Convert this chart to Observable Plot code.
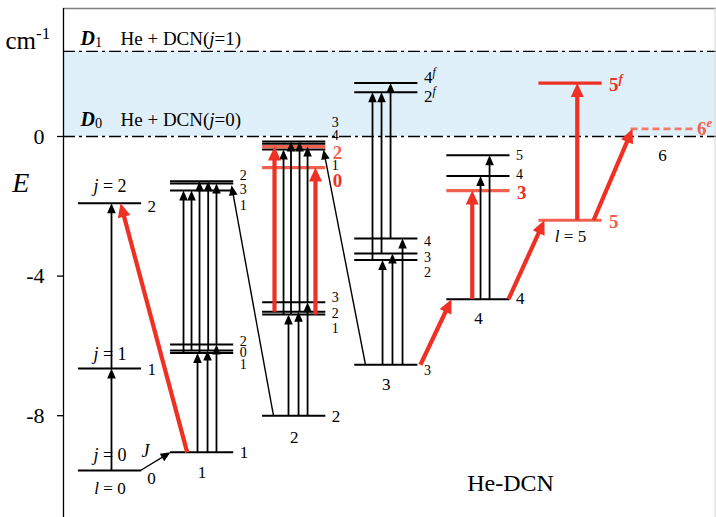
<!DOCTYPE html>
<html><head><meta charset="utf-8">
<script src="https://cdn.jsdelivr.net/npm/d3@7"></script>
<script src="https://cdn.jsdelivr.net/npm/@observablehq/plot@0.6"></script>
<style>body{margin:0;background:#fff}svg{display:block}svg text{font-family:'Liberation Serif','Times New Roman',serif}</style>
</head><body><div id="chart"></div>
<script>
// ---------- data ----------
const yTicks = [0, -4, -8];
const dissociation = [
  {name: "<b><i>D</i></b><sub>0</sub>", text: "He + DCN(<i>j</i>=0)", E: 0, labelE: 0.487},
  {name: "<b><i>D</i></b><sub>1</sub>", text: "He + DCN(<i>j</i>=1)", E: 2.44, labelE: 2.81}
];
// bound levels: column l, label J, energy E (cm-1), tone k=black, s=light red, r=red, d=dashed red
const levels = [
  {l:0, J:"0", E:-9.57, tone:"k"}, {l:0, J:"1", E:-6.65, tone:"k"}, {l:0, J:"2", E:-1.91, tone:"k"},
  {l:1, J:"1", E:-9.05, tone:"k"},
  {l:1, J:"2", E:-5.96, tone:"k"}, {l:1, J:"0", E:-6.13, tone:"k"}, {l:1, J:"1", E:-6.20, tone:"k"},
  {l:1, J:"2", E:-1.28, tone:"k"}, {l:1, J:"3", E:-1.35, tone:"k"}, {l:1, J:"1", E:-1.55, tone:"k"},
  {l:2, J:"2", E:-8.00, tone:"k"},
  {l:2, J:"3", E:-4.75, tone:"k"}, {l:2, J:"2", E:-5.02, tone:"k"}, {l:2, J:"1", E:-5.10, tone:"k"},
  {l:2, J:"3", E:-0.14, tone:"k"}, {l:2, J:"4", E:-0.21, tone:"k"}, {l:2, J:"2", E:-0.29, tone:"s"},
  {l:2, J:"1", E:-0.37, tone:"k"}, {l:2, J:"0", E:-0.89, tone:"s"},
  {l:3, J:"3", E:-6.54, tone:"k"},
  {l:3, J:"4", E:-2.92, tone:"k"}, {l:3, J:"3", E:-3.35, tone:"k"}, {l:3, J:"2", E:-3.54, tone:"k"},
  {l:3, J:"4f", E:1.53, tone:"k"}, {l:3, J:"2f", E:1.27, tone:"k"},
  {l:4, J:"4", E:-4.66, tone:"k"}, {l:4, J:"5", E:-0.54, tone:"k"}, {l:4, J:"4", E:-1.13, tone:"k"},
  {l:4, J:"3", E:-1.55, tone:"s"},
  {l:5, J:"5", E:-2.40, tone:"s"}, {l:5, J:"5f", E:1.53, tone:"r"},
  {l:6, J:"6e", E:0.22, tone:"d"}
];
// transitions: x in column units, from E1 to E2
const blackArrows = [
  {x1:0.016, E1:-9.57, x2:0.016, E2:-6.65}, {x1:0.016, E1:-6.65, x2:0.016, E2:-1.91},
  {x1:0.950, E1:-9.05, x2:0.950, E2:-6.20}, {x1:1.059, E1:-9.05, x2:1.059, E2:-6.13}, {x1:1.156, E1:-9.05, x2:1.156, E2:-5.96},
  {x1:0.798, E1:-6.20, x2:0.798, E2:-1.55}, {x1:0.885, E1:-6.13, x2:0.885, E2:-1.55},
  {x1:0.972, E1:-6.20, x2:0.972, E2:-1.28}, {x1:1.066, E1:-6.13, x2:1.066, E2:-1.28}, {x1:1.156, E1:-5.96, x2:1.156, E2:-1.35},
  {x1:1.938, E1:-8.00, x2:1.938, E2:-5.10}, {x1:2.047, E1:-8.00, x2:2.047, E2:-5.02}, {x1:2.145, E1:-8.00, x2:2.145, E2:-4.75},
  {x1:1.884, E1:-5.10, x2:1.884, E2:-0.37}, {x1:1.965, E1:-5.10, x2:1.965, E2:-0.14},
  {x1:2.058, E1:-5.02, x2:2.058, E2:-0.14}, {x1:2.145, E1:-4.75, x2:2.145, E2:-0.29},
  {x1:2.959, E1:-6.54, x2:2.959, E2:-3.54}, {x1:3.067, E1:-6.54, x2:3.067, E2:-3.35}, {x1:3.176, E1:-6.54, x2:3.176, E2:-2.92},
  {x1:2.850, E1:-3.54, x2:2.850, E2:1.27}, {x1:2.948, E1:-3.35, x2:2.948, E2:1.27}, {x1:3.046, E1:-2.92, x2:3.046, E2:1.53},
  {x1:4.023, E1:-4.66, x2:4.023, E2:-1.13}, {x1:4.121, E1:-4.66, x2:4.121, E2:-0.54}
];
const thinArrows = [
  {x1:1.775, E1:-8.00, x2:1.319, E2:-1.40},
  {x1:2.774, E1:-6.54, x2:2.318, E2:-0.37},
  {x1:0.331, E1:-9.57, x2:0.657, E2:-9.05}
];
const redArrows = [
  {x1:0.838, E1:-9.05, x2:0.114, E2:-1.91},
  {x1:1.786, E1:-5.02, x2:1.786, E2:-0.29},
  {x1:2.231, E1:-5.10, x2:2.231, E2:-0.89},
  {x1:3.371, E1:-6.54, x2:3.708, E2:-4.66},
  {x1:3.933, E1:-4.66, x2:3.933, E2:-1.55},
  {x1:4.327, E1:-4.66, x2:4.717, E2:-2.40},
  {x1:5.073, E1:-2.40, x2:5.073, E2:1.53},
  {x1:5.250, E1:-2.40, x2:5.673, E2:0.22}
];
// J labels at the right of the levels (c = crowded cluster)
const rightLabels = [
  {l:0, t:"2", E:-2.01}, {l:0, t:"1", E:-6.68},
  {l:1, t:"1", E:-9.05}, {l:1, t:"2", E:-5.87, c:1}, {l:1, t:"0", E:-6.19, c:1}, {l:1, t:"1", E:-6.52, c:1},
  {l:1, t:"2", E:-1.13, c:1}, {l:1, t:"3", E:-1.52, c:1}, {l:1, t:"1", E:-1.98, c:1},
  {l:2, t:"2", E:-8.02}, {l:2, t:"3", E:-4.62, c:1}, {l:2, t:"2", E:-5.07, c:1}, {l:2, t:"1", E:-5.49, c:1},
  {l:2, t:"3", E:0.39, c:1}, {l:2, t:"4", E:0.03, c:1}, {l:2, t:"2", E:-0.46, tone:"s"},
  {l:2, t:"1", E:-0.82, c:1}, {l:2, t:"0", E:-1.26, tone:"r"},
  {l:3, t:"3", E:-6.71, c:1}, {l:3, t:"4", E:-3.01, c:1}, {l:3, t:"3", E:-3.47, c:1}, {l:3, t:"2", E:-3.89, c:1},
  {l:3, t:"4<sup><i>f</i></sup>", E:1.69}, {l:3, t:"2<sup><i>f</i></sup>", E:1.15},
  {l:4, t:"4", E:-4.64}, {l:4, t:"5", E:-0.54, c:1}, {l:4, t:"4", E:-1.09, c:1}, {l:4, t:"3", E:-1.61, tone:"r"},
  {l:5, t:"5", E:-2.46, tone:"s"}, {l:5, t:"5<sup><i>f</i></sup>", E:1.49, tone:"r"},
  {l:6, t:"6<sup><i>e</i></sup>", E:0.23, tone:"s"}
];
// l labels below each stack
const lLabels = [
  {l:0, t:"<i>l</i> = 0", E:-10.09}, {l:1, t:"1", E:-9.63}, {l:2, t:"2", E:-8.63},
  {l:3, t:"3", E:-7.11}, {l:4, t:"4", E:-5.22}, {l:5, t:"<i>l</i> = 5", E:-2.87}, {l:6, t:"6", E:-0.54}
];
const jLabels = [
  {l:0, t:"<i>j</i> = 2", E:-1.43}, {l:0, t:"<i>j</i> = 1", E:-6.25}, {l:0, t:"<i>j</i> = 0", E:-9.14}
];
const notes = [
  {x:0.385, E:-9.03, t:"<i>J</i>", size:18},
  {x:0.45, E:-9.80, t:"0", size:17},
  {x:4.349, E:-9.94, t:"He-DCN", size:24}
];

// ---------- layout ----------
const W = 716, H = 517, ML = 63;
const FONT = "'Liberation Serif','Times New Roman',serif";
const xDomain = [-0.505, 6.585], yDomain = [-10.917, 3.897];
const frameTopE = 3.668, frameRightX = 6.569;
const half = 0.343;
const sx = d3.scaleLinear(xDomain, [ML, W]);
const sy = d3.scaleLinear(yDomain, [H, 0]);
const RED = "#ee3124", SALMON = "#f2604f", LIGHT = "#f47a6a";
const toneColor = {k: "#000", s: SALMON, r: RED, d: LIGHT};

function prep(arr, head) {
  return arr.map(a => {
    const p1 = [sx(a.x1), sy(a.E1)], p2 = [sx(a.x2), sy(a.E2)];
    const dx = p2[0] - p1[0], dy = p2[1] - p1[1], L = Math.hypot(dx, dy);
    return {...a, xs: sx.invert(p2[0] - dx / L * head * 0.7), Es: sy.invert(p2[1] - dy / L * head * 0.7),
      angle: Math.atan2(dx, -dy) * 180 / Math.PI};
  });
}
const bA = prep(blackArrows, 10), tA = prep(thinArrows, 10), rA = prep(redArrows, 14);

const dash = "12,4,3,4";
const T = {fontFamily: FONT};
const plot = Plot.plot({
  width: W, height: H, marginLeft: ML, marginRight: 0, marginTop: 0, marginBottom: 0,
  x: {domain: xDomain, range: [ML, W], axis: null},
  y: {domain: yDomain, range: [H, 0], axis: null},
  style: {fontFamily: FONT, background: "#fff", color: "#000", overflow: "visible"},
  marks: [
    Plot.rect([dissociation], {x1: xDomain[0], x2: xDomain[1], y1: d => d[0].E, y2: d => d[1].E, fill: "#dff0fa"}),
    Plot.ruleY(dissociation, {y: "E", x1: xDomain[0], x2: xDomain[1], stroke: "#000", strokeWidth: 1.3, strokeDasharray: dash}),
    Plot.ruleY([frameTopE], {x1: xDomain[0], x2: xDomain[1], stroke: "#808080", strokeWidth: 1.5}),
    Plot.ruleX([frameRightX], {y1: yDomain[0], y2: frameTopE, stroke: "#d8d8d8", strokeWidth: 1}),
    Plot.ruleX([xDomain[0]], {y1: yDomain[0], y2: frameTopE, stroke: "#000", strokeWidth: 1.3}),
    Plot.axisY({ticks: yTicks, tickFormat: d => String(d), tickSize: 6, tickPadding: 13, fontSize: 22, strokeWidth: 1.3, ...T}),
    // levels
    Plot.ruleY(levels.filter(d => d.tone === "k"), {y: "E", x1: d => d.l - half, x2: d => d.l + half, stroke: "#000", strokeWidth: 2}),
    Plot.ruleY(levels.filter(d => d.tone === "s" || d.tone === "r"), {y: "E", x1: d => d.l - half, x2: d => d.l + half, stroke: d => toneColor[d.tone], strokeWidth: 3.2}),
    Plot.ruleY(levels.filter(d => d.tone === "d"), {y: "E", x1: d => d.l - half, x2: d => d.l + half, stroke: LIGHT, strokeWidth: 2.6, strokeDasharray: "7,4"}),
    // arrows
    Plot.link(bA, {x1: "x1", y1: "E1", x2: "xs", y2: "Es", stroke: "#000", strokeWidth: 1.8}),
    Plot.vector(bA, {x: "x2", y: "E2", rotate: "angle", length: 10, r: 4.3, shape: "spike", anchor: "end", fill: "#000", stroke: "none"}),
    Plot.link(tA, {x1: "x1", y1: "E1", x2: "xs", y2: "Es", stroke: "#000", strokeWidth: 1.4}),
    Plot.vector(tA, {x: "x2", y: "E2", rotate: "angle", length: 10, r: 4.3, shape: "spike", anchor: "end", fill: "#000", stroke: "none"}),
    Plot.link(rA, {x1: "x1", y1: "E1", x2: "xs", y2: "Es", stroke: RED, strokeWidth: 4.2}),
    Plot.vector(rA, {x: "x2", y: "E2", rotate: "angle", length: 14, r: 6.5, shape: "spike", anchor: "end", fill: RED, stroke: "none"}),
    // labels
    Plot.text(rightLabels.filter(d => !d.tone && d.c), {x: d => d.l + half + 0.065, y: "E", text: "t", textAnchor: "start", fontSize: 14, ...T}),
    Plot.text(rightLabels.filter(d => !d.tone && !d.c), {x: d => d.l + half + 0.065, y: "E", text: "t", textAnchor: "start", fontSize: 17, ...T}),
    Plot.text(rightLabels.filter(d => d.tone), {x: d => d.l + (d.l === 6 ? half + 0.03 : half + 0.075), y: "E", text: "t", textAnchor: "start", fontSize: 19, fontWeight: "bold", fill: d => toneColor[d.tone], ...T}),
    Plot.text(lLabels, {x: "l", y: "E", text: "t", fontSize: 17, ...T}),
    Plot.text(jLabels, {x: "l", y: "E", text: "t", fontSize: 18, ...T}),
    Plot.text(notes, {x: "x", y: "E", text: "t", fontSize: d => d.size, ...T}),
    Plot.text(dissociation, {x: -0.32, y: "labelE", text: "name", textAnchor: "start", fontSize: 20, ...T}),
    Plot.text(dissociation, {x: 0.114, y: "labelE", text: "text", textAnchor: "start", fontSize: 19, ...T}),
    Plot.text(["cm<sup>-1</sup>"], {x: -1.135, y: 2.75, text: d => d, textAnchor: "start", fontSize: 25, ...T}),
    Plot.text(["<i>E</i>"], {x: -0.97, y: -1.32, text: d => d, fontSize: 28, ...T})
  ]
});
document.getElementById("chart").appendChild(plot);

// rich text: <i>, <b>, <sup>, <sub>
function rich(svg) {
  const NS = "http://www.w3.org/2000/svg";
  for (const t of svg.querySelectorAll("text")) {
    const s = t.textContent;
    if (!s.includes("<")) continue;
    const base = parseFloat(getComputedStyle(t).fontSize) || 16;
    while (t.firstChild) t.removeChild(t.firstChild);
    const re = /<(\/?)(i|b|sup|sub)>|([^<]+)/g;
    const st = {i: 0, b: 0, sup: 0, sub: 0};
    let shift = 0, m;
    while ((m = re.exec(s))) {
      if (m[2]) { st[m[2]] += m[1] ? -1 : 1; continue; }
      const ts = document.createElementNS(NS, "tspan");
      ts.textContent = m[3];
      if (st.i) ts.setAttribute("font-style", "italic");
      if (st.b) ts.setAttribute("font-weight", "bold");
      let target = 0, fs = base;
      if (st.sup) { target = -0.4 * base; fs = base * 0.68; }
      if (st.sub) { target = 0.1 * base; fs = base * 0.72; ts.setAttribute("font-weight", "normal"); ts.setAttribute("font-style", "normal"); }
      if (fs !== base) ts.setAttribute("font-size", fs.toFixed(1));
      if (target !== shift) { ts.setAttribute("dy", (target - shift).toFixed(1)); shift = target; }
      t.appendChild(ts);
    }
  }
}
rich(plot);
</script>
</body></html>
